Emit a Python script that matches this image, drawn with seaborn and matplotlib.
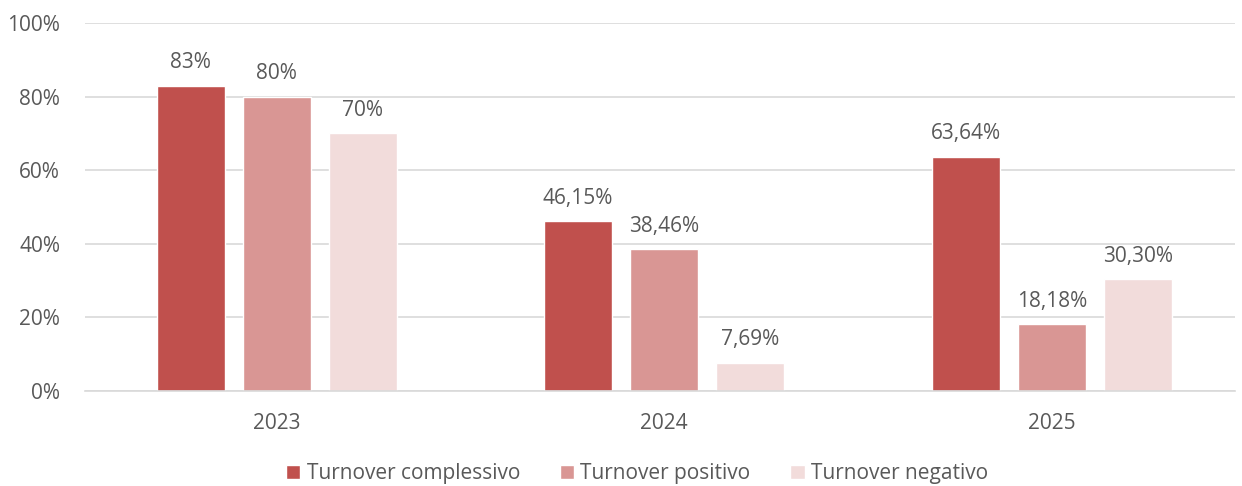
import matplotlib
matplotlib.use("Agg")
import matplotlib.pyplot as plt
import seaborn as sns
import pandas as pd
from matplotlib.ticker import FuncFormatter

years = ["2023", "2024", "2025"]
series = ["Turnover complessivo", "Turnover positivo", "Turnover negativo"]
complessivo = [83.0, 46.15, 63.64]
positivo = [80.0, 38.46, 18.18]
negativo = [70.0, 7.69, 30.30]
labels_complessivo = ["83%", "46,15%", "63,64%"]
labels_positivo = ["80%", "38,46%", "18,18%"]
labels_negativo = ["70%", "7,69%", "30,30%"]
colors = ["#C0504D", "#D99694", "#F2DCDB"]

rows = []
for s, vals, labs in zip(series, [complessivo, positivo, negativo],
                         [labels_complessivo, labels_positivo, labels_negativo]):
    for y, v, l in zip(years, vals, labs):
        rows.append({"Anno": y, "Serie": s, "Valore": v, "Label": l})
df = pd.DataFrame(rows)

sns.set_theme(style="white")
plt.rcParams["font.family"] = ["Open Sans", "DejaVu Sans"]
text_color = "#595959"
fs = 15

fig = plt.figure(figsize=(12.42, 4.86), dpi=100)
ax = fig.add_axes([85 / 1242, 1 - 391 / 486, 1150 / 1242, (391 - 23) / 486])

sns.barplot(data=df, x="Anno", y="Valore", hue="Serie", hue_order=series,
            order=years, palette=colors, width=0.667, gap=0.21,
            saturation=1, ax=ax, legend=True)

ax.set_ylim(0, 100)
ax.set_xlim(-0.495, 2.473)
ax.set_yticks([0, 20, 40, 60, 80, 100])
ax.yaxis.set_major_formatter(FuncFormatter(lambda v, p: f"{int(v)}%"))
ax.grid(axis="y", color="#D9D9D9", linewidth=1.2)
ax.set_axisbelow(True)
for sp in ["top", "right", "left"]:
    ax.spines[sp].set_visible(False)
ax.spines["bottom"].set_color("#D9D9D9")
ax.spines["bottom"].set_linewidth(1.2)
ax.tick_params(axis="both", length=0, labelsize=fs, colors=text_color)
ax.tick_params(axis="y", pad=18)
ax.tick_params(axis="x", pad=16)
ax.set_xlabel("")
ax.set_ylabel("")

for container, s in zip(ax.containers, series):
    labs = df[df["Serie"] == s].set_index("Anno").loc[years, "Label"].tolist()
    ax.bar_label(container, labels=labs, padding=9, fontsize=fs, color=text_color)

handles, lbls = ax.get_legend_handles_labels()
ax.legend(handles, lbls, loc="center", bbox_to_anchor=(0.48, -0.225),
          ncol=3, frameon=False, fontsize=fs, labelcolor=text_color,
          handlelength=0.7, handleheight=0.7, handletextpad=0.3, columnspacing=1.9,
          borderpad=0, borderaxespad=0)

fig.savefig("out.png", dpi=100)
